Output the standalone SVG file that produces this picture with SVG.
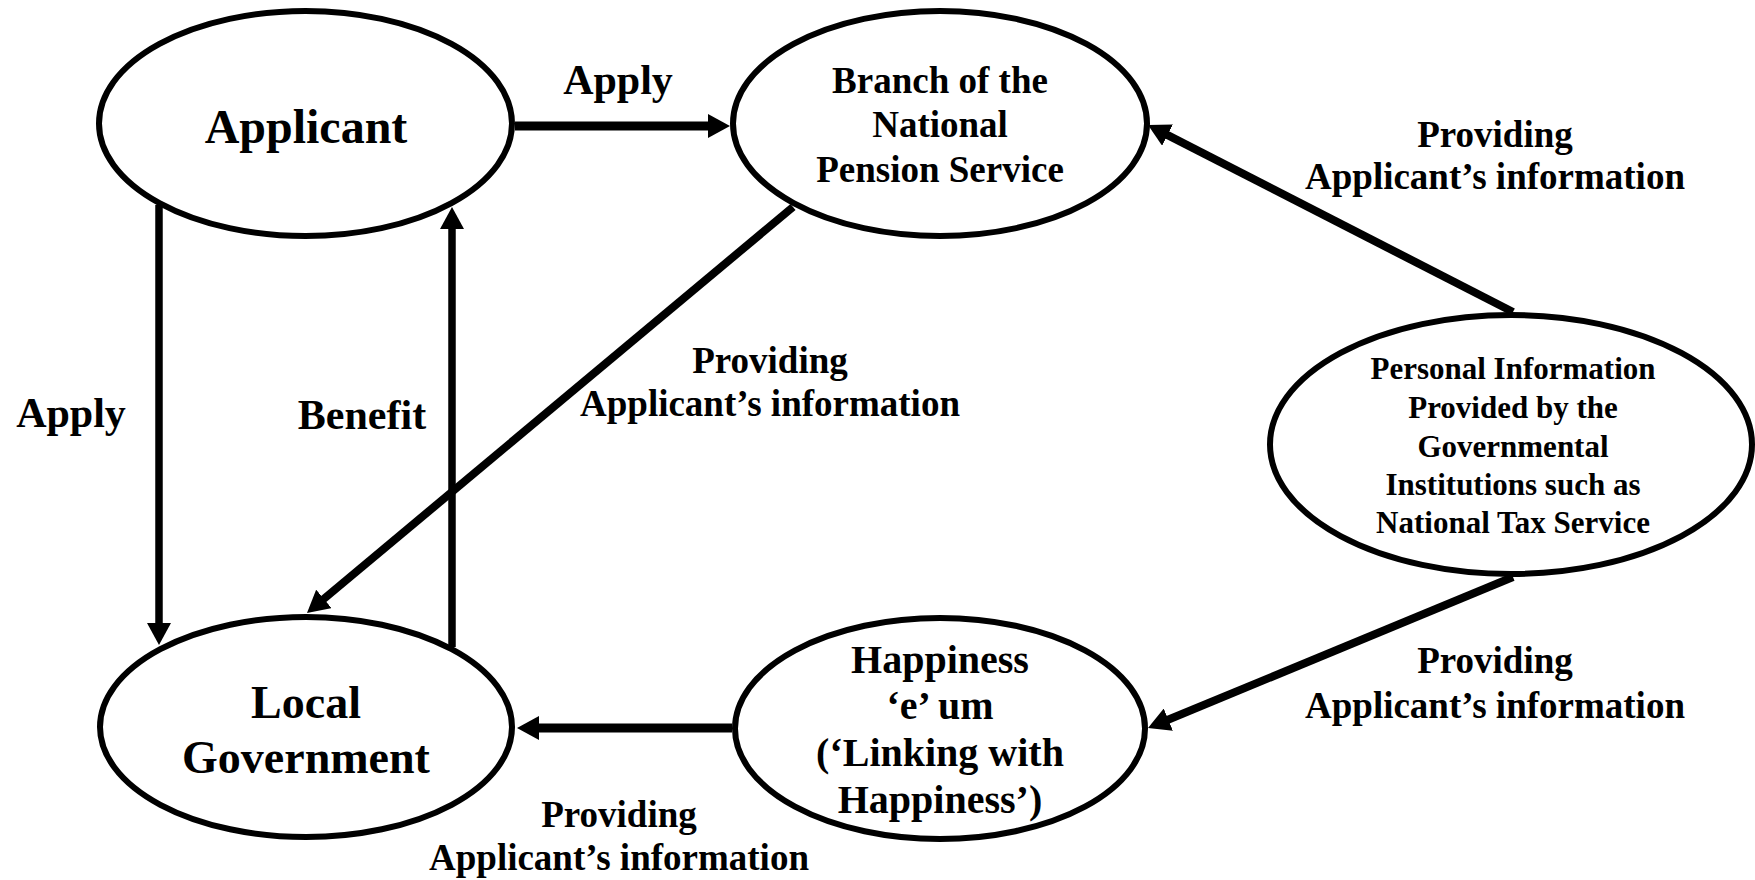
<svg xmlns="http://www.w3.org/2000/svg" width="1755" height="880" viewBox="0 0 1755 880">
<style>
.node{fill:#fff;stroke:#000;stroke-width:6}
text{font-family:"Liberation Serif","Times New Roman",serif;font-weight:bold;fill:#000;text-anchor:middle}
.c{stroke:#000;fill:none}
.t37{font-size:37px}
.t42{font-size:42px}
</style>
<defs>
<marker id="ah" viewBox="0 0 22 24" markerWidth="22" markerHeight="24" markerUnits="userSpaceOnUse" refX="1" refY="12" orient="auto">
<path d="M0,0 L22,12 L0,24 z" fill="#000"/>
</marker>
</defs>
<rect width="1755" height="880" fill="#fff"/>
<g id="connectors">
<line class="c" x1="515" y1="126" x2="709" y2="126" stroke-width="9" marker-end="url(#ah)"/>
<line class="c" x1="159" y1="205" x2="159" y2="624" stroke-width="7.5" marker-end="url(#ah)"/>
<line class="c" x1="452" y1="647" x2="452" y2="228" stroke-width="7.5" marker-end="url(#ah)"/>
<line class="c" x1="793" y1="207" x2="323.1" y2="599.5" stroke-width="8" marker-end="url(#ah)"/>
<line class="c" x1="1513" y1="312" x2="1166.7" y2="134.6" stroke-width="8" marker-end="url(#ah)"/>
<line class="c" x1="1513" y1="577" x2="1167.4" y2="720" stroke-width="8" marker-end="url(#ah)"/>
<line class="c" x1="732" y1="728" x2="538" y2="728" stroke-width="9" marker-end="url(#ah)"/>
</g>
<g id="labels">
<text class="t42" x="618" y="94">Apply</text>
<text class="t42" x="71" y="427">Apply</text>
<text class="t42" x="362" y="429">Benefit</text>
<text class="t37" x="770" y="373">Providing</text>
<text class="t37" x="770" y="416">Applicant’s information</text>
<text class="t37" x="1495" y="147">Providing</text>
<text class="t37" x="1495" y="189">Applicant’s information</text>
<text class="t37" x="1495" y="673">Providing</text>
<text class="t37" x="1495" y="718">Applicant’s information</text>
<text class="t37" x="619" y="827">Providing</text>
<text class="t37" x="619" y="870">Applicant’s information</text>
</g>
<g id="applicant">
<ellipse class="node" cx="305.5" cy="123.5" rx="206.5" ry="112.5"/>
<text x="306" y="143" font-size="48">Applicant</text>
</g>
<g id="branch">
<ellipse class="node" cx="940" cy="123.5" rx="207" ry="112.5"/>
<text x="940" y="93" font-size="37">Branch of the</text>
<text x="940" y="137" font-size="37">National</text>
<text x="940" y="182" font-size="37">Pension Service</text>
</g>
<g id="local">
<ellipse class="node" cx="306" cy="727" rx="206" ry="110"/>
<text x="306" y="718" font-size="46">Local</text>
<text x="306" y="773" font-size="46">Government</text>
</g>
<g id="happiness">
<ellipse class="node" cx="940" cy="728.5" rx="205" ry="110.5"/>
<text x="940" y="673" font-size="40">Happiness</text>
<text x="940" y="719" font-size="40">‘e’ um</text>
<text x="940" y="766" font-size="40">(‘Linking with</text>
<text x="940" y="813" font-size="40">Happiness’)</text>
</g>
<g id="personal">
<ellipse class="node" cx="1511" cy="444.5" rx="241" ry="129.5"/>
<text x="1513" y="379" font-size="31">Personal Information</text>
<text x="1513" y="418" font-size="31">Provided by the</text>
<text x="1513" y="457" font-size="31">Governmental</text>
<text x="1513" y="495" font-size="31">Institutions such as</text>
<text x="1513" y="533" font-size="31">National Tax Service</text>
</g>
</svg>
